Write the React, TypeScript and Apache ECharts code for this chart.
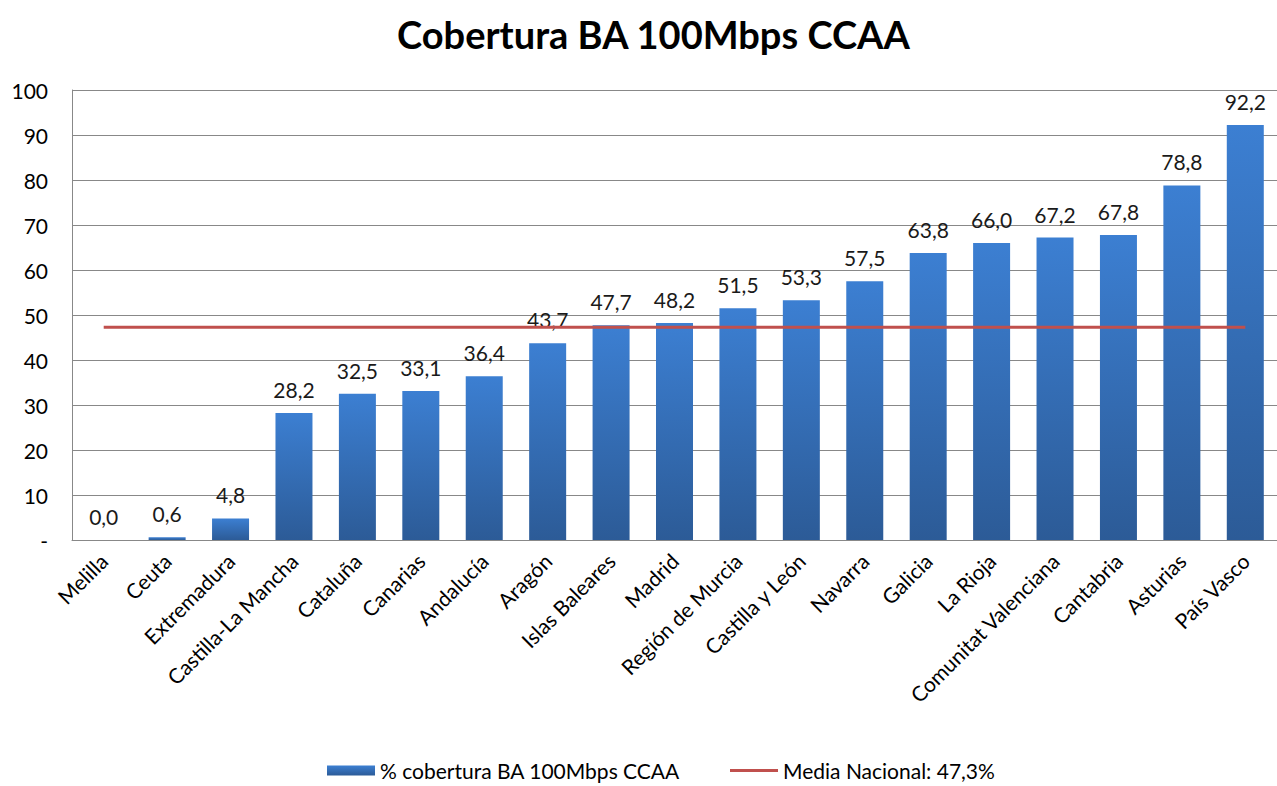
import React, { useEffect, useRef } from "react";
import * as echarts from "echarts";

const categories = [
  "Melilla", "Ceuta", "Extremadura", "Castilla-La Mancha", "Cataluña", "Canarias",
  "Andalucía", "Aragón", "Islas Baleares", "Madrid", "Región de Murcia", "Castilla y León",
  "Navarra", "Galicia", "La Rioja", "Comunitat Valenciana", "Cantabria", "Asturias", "País Vasco",
];
const coverage = [0.0, 0.6, 4.8, 28.2, 32.5, 33.1, 36.4, 43.7, 47.7, 48.2, 51.5, 53.3, 57.5, 63.8, 66.0, 67.2, 67.8, 78.8, 92.2];
const nationalAverage = 47.3;
const averageLine = categories.map(() => nationalAverage);

const FONT = "Lato, 'Open Sans', sans-serif";

export default function App() {
  const ref = useRef<HTMLDivElement>(null);
  useEffect(() => {
    if (!ref.current) return;
    const chart = echarts.init(ref.current, null, { renderer: "svg" });
    chart.setOption({
      animation: false,
      backgroundColor: "#ffffff",
      textStyle: { fontFamily: FONT },
      title: {
        text: "Cobertura BA 100Mbps CCAA",
        left: 392,
        top: 10,
        textStyle: { fontFamily: FONT, fontWeight: "bold", fontSize: 38, color: "#000" },
      },
      legend: {
        bottom: 0,
        left: 322,
        itemGap: 50,
        itemWidth: 48,
        itemHeight: 10,
        textStyle: { fontFamily: FONT, fontSize: 21, color: "#000" },
        data: [
          { name: "% cobertura BA 100Mbps CCAA", icon: "rect" },
          { name: "Media Nacional: 47,3%", icon: "path://M0,4 L48,4 L48,7 L0,7 Z" },
        ],
      },
      grid: { left: 72, top: 90, width: 1209, height: 450, containLabel: false },
      xAxis: {
        type: "category",
        data: categories,
        boundaryGap: true,
        axisLine: { lineStyle: { color: "#888", width: 1 } },
        axisTick: { show: false },
        axisLabel: {
          rotate: 45,
          interval: 0,
          margin: 17,
          fontFamily: FONT,
          fontSize: 21,
          color: "#000",
        },
      },
      yAxis: {
        type: "value",
        min: 0,
        max: 100,
        interval: 10,
        axisLine: { show: true, lineStyle: { color: "#888", width: 1 } },
        axisTick: { show: false },
        splitLine: { lineStyle: { color: "#888", width: 1 } },
        axisLabel: {
          margin: 24,
          fontFamily: FONT,
          fontSize: 21,
          color: "#000",
          formatter: (v: number) => (v === 0 ? "-" : String(v)),
        },
      },
      series: [
        {
          name: "% cobertura BA 100Mbps CCAA",
          type: "bar",
          data: coverage,
          barWidth: 37,
          itemStyle: {
            color: new echarts.graphic.LinearGradient(0, 0, 0, 1, [
              { offset: 0, color: "#3c7fd2" },
              { offset: 1, color: "#2c5b97" },
            ]),
          },
          label: {
            show: true,
            position: "top",
            distance: 13,
            fontFamily: FONT,
            fontSize: 21,
            color: "#1a1a1a",
            formatter: (p: any) => Number(p.value).toFixed(1).replace(".", ","),
          },
          z: 2,
        },
        {
          name: "Media Nacional: 47,3%",
          type: "line",
          data: averageLine,
          symbol: "none",
          lineStyle: { color: "#c0504d", width: 3 },
          itemStyle: { color: "#c0504d" },
          z: 3,
        },
      ],
    });
    return () => chart.dispose();
  }, []);
  return (
    <div
      ref={ref}
      style={{ position: "absolute", left: 0, top: 0, width: 1277, height: 786 }}
    />
  );
}
